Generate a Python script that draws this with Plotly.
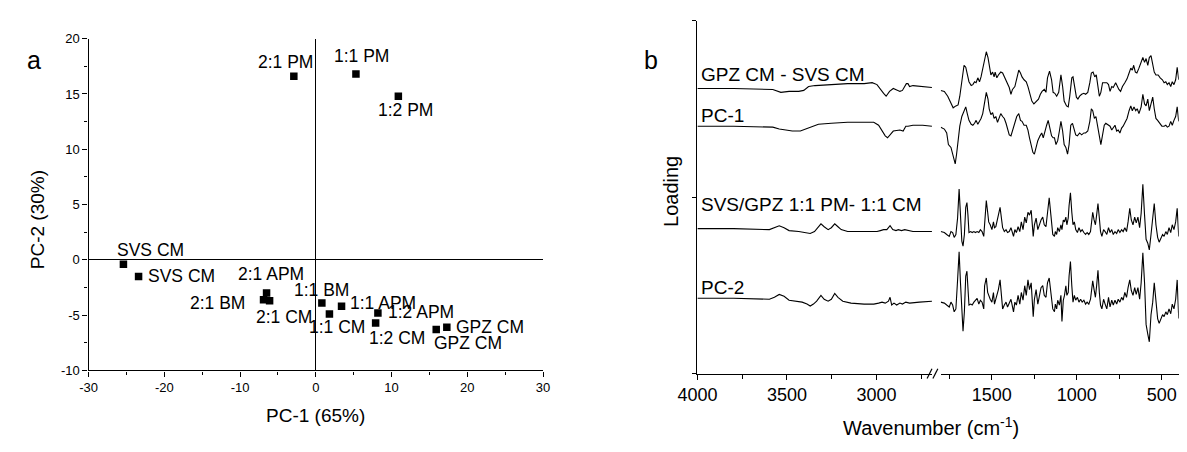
import plotly.graph_objects as go

# ---------------- Panel a: PCA scores ----------------
sample_names = ["2:1 PM", "1:1 PM", "1:2 PM", "SVS CM", "SVS CM", "2:1 APM", "2:1 BM",
                "2:1 CM", "1:1 BM", "1:1 CM", "1:1 APM", "1:2 APM", "1:2 CM", "GPZ CM", "GPZ CM"]
pc1_scores = [-2.9, 5.3, 10.9, -25.4, -23.4, -6.5, -6.9, -6.1, 0.8, 1.8, 3.4, 8.2, 7.9, 15.9, 17.3]
pc2_scores = [16.6, 16.8, 14.8, -0.4, -1.5, -3.0, -3.6, -3.7, -3.9, -4.9, -4.2, -4.8, -5.7, -6.3, -6.1]

pc1_ticks = [-30, -20, -10, 0, 10, 20, 30]
pc1_tick_labels = ["-30", "-20", "-10", "0", "10", "20", "30"]
pc2_ticks = [-10, -5, 0, 5, 10, 15, 20]
pc2_tick_labels = ["-10", "-5", "0", "5", "10", "15", "20"]

# label placement (xanchor, xshift px, yshift px) -- style only
label_place = [("center", -8, 14), ("center", 6, 18), ("center", 7, -14), ("center", 27, 14),
               ("left", 7, 0), ("center", 4, 19), ("right", -17, -3), ("center", 14, -16),
               ("center", 0, 13), ("center", 8, -13), ("left", 6, 3), ("left", 8, 1),
               ("center", 21, -15), ("center", 32, -13), ("left", 7, 0)]

# ---------------- Panel b: loadings (arbitrary units) ----------------
curve_names = ["GPZ CM - SVS CM", "PC-1", "SVS/GPZ 1:1 PM- 1:1 CM", "PC-2"]

# high-wavenumber region (4000-2690 cm-1)
c1_wn_hi = [4000, 3798, 3579, 3552, 3534, 3488, 3434, 3406, 3379, 3343, 3252, 3161, 3069, 3024, 2997,
            2978, 2960, 2946, 2927, 2906, 2887, 2869, 2855, 2842, 2833, 2824, 2815, 2796, 2742, 2690]
c1_hi = [295, 295, 294, 292, 291, 292, 292, 293, 297, 298, 299, 300, 300, 301, 299,
         294, 290, 287, 292, 295, 293, 292, 293, 297, 300, 300, 297, 298, 297, 296]
c2_wn_hi = [4000, 3798, 3579, 3543, 3506, 3470, 3425, 3397, 3361, 3324, 3252, 3161, 3069, 3015,
            2988, 2969, 2951, 2938, 2924, 2906, 2869, 2851, 2836, 2824, 2796, 2742, 2690]
c2_hi = [256, 256, 255, 253, 252, 251, 251, 253, 256, 258, 259, 260, 260, 260,
         257, 252, 246, 244, 247, 251, 252, 251, 256, 256, 257, 257, 256]
c3_wn_hi = [4000, 3798, 3598, 3570, 3543, 3516, 3488, 3434, 3397, 3370, 3346, 3328, 3310, 3292, 3270,
            3252, 3233, 3215, 3197, 3161, 3069, 3015, 2997, 2978, 2960, 2942, 2924, 2909, 2891, 2878,
            2860, 2842, 2824, 2796, 2742, 2690]
c3_hi = [150, 150, 149, 151, 153, 151, 148, 147, 146, 145, 147, 151, 155, 152, 149,
         151, 155, 152, 149, 147, 147, 147, 147, 148, 149, 149, 153, 149, 148, 149,
         148, 149, 148, 147, 147, 147]
c4_wn_hi = [4000, 3798, 3598, 3570, 3543, 3516, 3488, 3452, 3415, 3388, 3370, 3352, 3334, 3310, 3292,
            3270, 3252, 3233, 3215, 3188, 3142, 3069, 3015, 2988, 2969, 2951, 2933, 2924, 2915, 2902,
            2887, 2869, 2855, 2836, 2815, 2760, 2690]
c4_hi = [78, 78, 77, 79, 82, 80, 76, 75, 74, 72, 70, 72, 75, 81, 77,
         75, 77, 83, 79, 75, 73, 72, 72, 73, 74, 73, 75, 79, 71, 73,
         71, 73, 72, 74, 73, 74, 75]

# fingerprint region (1800-400 cm-1)
c1_wn_lo = [1800, 1779, 1759, 1740, 1727, 1711, 1698, 1688, 1676, 1663,
            1653, 1644, 1634, 1621, 1611, 1601, 1592, 1582, 1572, 1563,
            1553, 1543, 1532, 1522, 1515, 1505, 1495, 1486, 1480, 1470,
            1461, 1447, 1436, 1422, 1409, 1397, 1387, 1378, 1364, 1353,
            1341, 1331, 1322, 1310, 1297, 1287, 1274, 1264, 1252, 1239,
            1225, 1214, 1204, 1191, 1181, 1172, 1160, 1148, 1139, 1129,
            1118, 1106, 1093, 1083, 1074, 1060, 1050, 1041, 1029, 1022,
            1012, 1002, 993, 983, 971, 958, 948, 935, 923, 914,
            904, 894, 885, 875, 867, 858, 848, 838, 823, 813,
            804, 794, 785, 771, 761, 752, 742, 731, 717, 704,
            692, 682, 673, 665, 655, 646, 634, 625, 611, 601,
            592, 582, 573, 563, 553, 544, 534, 521, 509, 496,
            486, 476, 467, 457, 447, 438, 428, 418, 409, 400]
c1_lo = [293, 292, 287, 279, 275, 277, 278, 287, 304, 319,
         317, 311, 302, 298, 299, 302, 301, 306, 302, 307,
         316, 326, 333, 327, 317, 309, 312, 307, 312, 306,
         309, 312, 311, 306, 302, 296, 289, 294, 297, 307,
         314, 311, 307, 304, 302, 297, 287, 282, 279, 282,
         284, 289, 292, 294, 291, 306, 313, 304, 291, 290,
         287, 291, 309, 297, 282, 277, 276, 287, 306, 307,
         297, 286, 284, 287, 289, 290, 289, 291, 301, 311,
         312, 307, 309, 294, 287, 291, 301, 301, 301, 299,
         292, 297, 296, 301, 297, 294, 292, 297, 301, 305,
         311, 316, 314, 319, 312, 311, 316, 321, 327, 322,
         326, 319, 327, 329, 321, 312, 309, 309, 306, 304,
         301, 302, 299, 301, 297, 302, 299, 304, 317, 304]

c2_wn_lo = [1800, 1779, 1765, 1755, 1740, 1730, 1721, 1715, 1707, 1698,
            1688, 1676, 1663, 1653, 1644, 1634, 1621, 1611, 1601, 1592,
            1582, 1572, 1563, 1553, 1543, 1532, 1522, 1515, 1505, 1495,
            1486, 1476, 1466, 1457, 1447, 1436, 1426, 1416, 1407, 1397,
            1387, 1378, 1364, 1353, 1341, 1331, 1322, 1310, 1297, 1287,
            1278, 1268, 1258, 1249, 1239, 1229, 1216, 1206, 1197, 1187,
            1177, 1168, 1158, 1148, 1139, 1131, 1122, 1112, 1102, 1093,
            1083, 1074, 1064, 1054, 1045, 1035, 1025, 1016, 1006, 996,
            983, 971, 958, 948, 935, 923, 914, 906, 896, 887,
            877, 867, 858, 848, 838, 829, 813, 804, 794, 785,
            775, 765, 756, 746, 736, 727, 717, 704, 692, 682,
            673, 663, 653, 644, 634, 621, 611, 601, 592, 582,
            573, 563, 553, 544, 534, 524, 511, 499, 486, 476,
            467, 457, 447, 438, 428, 418, 409, 400]
c2_lo = [255, 253, 249, 237, 234, 227, 221, 217, 227, 244,
         256, 266, 272, 276, 269, 262, 258, 257, 259, 262,
         258, 261, 264, 269, 282, 291, 284, 274, 268, 270,
         264, 266, 260, 264, 269, 266, 264, 259, 254, 247,
         246, 251, 261, 266, 269, 262, 261, 257, 257, 252,
         244, 237, 229, 227, 234, 241, 246, 249, 244, 252,
         257, 262, 252, 246, 244, 244, 237, 241, 251, 261,
         251, 237, 234, 227, 237, 257, 259, 254, 247, 246,
         249, 247, 249, 249, 251, 261, 274, 272, 264, 266,
         254, 246, 237, 247, 257, 259, 257, 256, 252, 254,
         257, 251, 252, 249, 254, 256, 259, 264, 272, 277,
         272, 276, 272, 274, 269, 276, 289, 279, 277, 284,
         272, 281, 286, 274, 264, 262, 259, 256, 256, 257,
         255, 256, 261, 257, 262, 266, 276, 261]

c34_wn_lo = [1800, 1779, 1765, 1750, 1740, 1730, 1721, 1711, 1701, 1692,
             1684, 1676, 1669, 1661, 1653, 1646, 1640, 1634, 1624, 1615,
             1605, 1596, 1586, 1576, 1567, 1557, 1547, 1542, 1532, 1524,
             1518, 1509, 1499, 1490, 1484, 1476, 1468, 1461, 1451, 1441,
             1436, 1426, 1416, 1407, 1397, 1387, 1380, 1372, 1364, 1355,
             1345, 1335, 1326, 1316, 1306, 1297, 1287, 1278, 1268, 1262,
             1256, 1249, 1239, 1229, 1220, 1210, 1200, 1191, 1181, 1172,
             1162, 1152, 1141, 1131, 1126, 1118, 1112, 1102, 1093, 1087,
             1079, 1072, 1064, 1058, 1050, 1045, 1037, 1029, 1022, 1014,
             1006, 996, 987, 977, 968, 958, 948, 939, 929, 919,
             914, 906, 898, 890, 883, 875, 867, 860, 852, 842,
             833, 823, 813, 804, 794, 785, 775, 765, 756, 746,
             736, 727, 717, 707, 698, 688, 679, 669, 659, 650,
             640, 630, 621, 611, 601, 592, 582, 573, 563, 553,
             544, 534, 524, 515, 505, 495, 486, 476, 467, 457,
             447, 438, 428, 418, 409, 400]
c3_lo = [147, 146, 144, 142, 147, 146, 141, 144, 161, 191,
         164, 137, 132, 144, 172, 177, 164, 146, 147, 146,
         147, 146, 147, 146, 149, 147, 142, 157, 179, 167,
         157, 154, 149, 157, 151, 152, 157, 164, 172, 161,
         151, 147, 149, 146, 147, 151, 146, 142, 149, 146,
         152, 147, 157, 149, 162, 156, 167, 164, 169, 154,
         142, 154, 161, 149, 154, 159, 162, 154, 152, 167,
         182, 164, 144, 142, 147, 144, 151, 147, 154, 149,
         159, 157, 162, 154, 161, 174, 187, 167, 154, 157,
         149, 146, 151, 147, 149, 146, 144, 146, 144, 147,
         157, 167, 159, 154, 164, 176, 161, 147, 142, 149,
         147, 144, 151, 146, 149, 144, 147, 145, 149, 146,
         149, 147, 151, 147, 157, 171, 159, 154, 162, 156,
         162, 151, 166, 196, 164, 139, 135, 128, 144, 161,
         176, 154, 141, 136, 141, 144, 142, 147, 144, 151,
         146, 154, 149, 157, 171, 142]
c4_lo = [74, 73, 71, 69, 74, 71, 64, 67, 97, 126,
         94, 57, 44, 64, 101, 106, 87, 71, 72, 71,
         74, 76, 78, 72, 76, 74, 67, 91, 99, 84,
         81, 77, 74, 84, 72, 77, 82, 87, 97, 81,
         67, 71, 74, 69, 74, 77, 71, 64, 74, 71,
         81, 72, 84, 76, 91, 81, 97, 87, 94, 74,
         59, 77, 87, 72, 81, 89, 91, 81, 79, 94,
         99, 84, 67, 64, 72, 67, 76, 71, 81, 54,
         76, 81, 91, 81, 84, 101, 116, 91, 74, 81,
         76, 79, 74, 77, 74, 76, 72, 74, 72, 77,
         86, 96, 87, 79, 91, 107, 84, 71, 67, 77,
         72, 67, 79, 69, 76, 71, 76, 72, 77, 74,
         79, 76, 84, 79, 89, 97, 86, 81, 89, 82,
         89, 77, 94, 125, 94, 51, 41, 33, 61, 74,
         94, 71, 57, 52, 57, 61, 59, 64, 61, 67,
         62, 72, 67, 77, 97, 57]

hi_region = [(c1_wn_hi, c1_hi), (c2_wn_hi, c2_hi), (c3_wn_hi, c3_hi), (c4_wn_hi, c4_hi)]
lo_region = [(c1_wn_lo, c1_lo), (c2_wn_lo, c2_lo), (c34_wn_lo, c3_lo), (c34_wn_lo, c4_lo)]

# ---------------- Figure ----------------
W, H = 1187, 452
PAGE = 8  # default page margin of the html body
FONT = "Liberation Sans, Arial, sans-serif"
BLACK = "#000000"


def px(x):
    return (x - PAGE) / W


def py(y):
    return (H - (y - PAGE)) / H


fig = go.Figure()

fig.add_trace(go.Scatter(
    x=pc1_scores, y=pc2_scores, mode="markers",
    marker=dict(symbol="square", size=7.5, color=BLACK),
    xaxis="x", yaxis="y", showlegend=False, hoverinfo="skip"))

for (wn, v) in hi_region:
    fig.add_trace(go.Scatter(x=wn, y=v, mode="lines", line=dict(color=BLACK, width=1.1),
                             xaxis="x2", yaxis="y2", showlegend=False))
for (wn, v) in lo_region:
    fig.add_trace(go.Scatter(x=wn, y=v, mode="lines", line=dict(color=BLACK, width=1.1),
                             xaxis="x3", yaxis="y2", showlegend=False))

annotations = []
for name, xv, yv, (anc, dx, dy) in zip(sample_names, pc1_scores, pc2_scores, label_place):
    annotations.append(dict(x=xv, y=yv, xref="x", yref="y", text=name, showarrow=False,
                            xanchor=anc, yanchor="middle", xshift=dx, yshift=dy,
                            font=dict(size=17.5, color=BLACK, family=FONT)))

label_y = [70, 111.7, 204.5, 290]
for name, yy in zip(curve_names, label_y):
    annotations.append(dict(x=px(695), y=py(yy), xref="paper", yref="paper", text=name,
                            showarrow=False, xanchor="left", yanchor="middle",
                            font=dict(size=19, color=BLACK, family=FONT)))

annotations += [
    dict(x=px(14), y=py(55), xref="paper", yref="paper", text="a", showarrow=False,
         xanchor="center", yanchor="middle", font=dict(size=25, color=BLACK, family=FONT)),
    dict(x=px(645), y=py(55), xref="paper", yref="paper", text="b", showarrow=False,
         xanchor="center", yanchor="middle", font=dict(size=25, color=BLACK, family=FONT)),
    dict(x=px(302.6), y=py(422), xref="paper", yref="paper", text="PC-1 (65%)", showarrow=False,
         xanchor="center", yanchor="middle", font=dict(size=19, color=BLACK, family=FONT)),
    dict(x=px(18), y=py(219.5), xref="paper", yref="paper", text="PC-2 (30%)", showarrow=False,
         textangle=-90, xanchor="center", yanchor="middle",
         font=dict(size=19, color=BLACK, family=FONT)),
    dict(x=px(666), y=py(191), xref="paper", yref="paper", text="Loading", showarrow=False,
         textangle=-90, xanchor="center", yanchor="middle",
         font=dict(size=20, color=BLACK, family=FONT)),
    dict(x=px(932), y=py(434), xref="paper", yref="paper", text="Wavenumber (cm<sup>-1</sup>)",
         showarrow=False, xanchor="center", yanchor="middle",
         font=dict(size=20, color=BLACK, family=FONT)),
]

shapes = [
    dict(type="line", xref="paper", yref="paper", x0=px(928), y0=py(384), x1=px(933), y1=py(374),
         line=dict(color=BLACK, width=1.2)),
    dict(type="line", xref="paper", yref="paper", x0=px(934), y0=py(384), x1=px(939), y1=py(374),
         line=dict(color=BLACK, width=1.2)),
]

axis_common = dict(showline=True, linecolor=BLACK, linewidth=1.3, ticks="outside",
                   tickcolor=BLACK, tickwidth=1.2, showgrid=False, mirror=False)

fig.update_layout(
    width=W, height=H, margin=dict(l=0, r=0, t=0, b=0),
    paper_bgcolor="white", plot_bgcolor="white",
    font=dict(family=FONT, color=BLACK),
    showlegend=False,
    xaxis=dict(domain=[px(70), px(535)], range=[-30, 30], anchor="y",
               tickmode="array", tickvals=pc1_ticks, ticktext=pc1_tick_labels, ticklen=5,
               minor=dict(dtick=5, ticklen=3, ticks="outside", tickcolor=BLACK, tickwidth=1),
               zeroline=True, zerolinecolor=BLACK, zerolinewidth=1.3,
               tickfont=dict(size=13, color=BLACK), **axis_common),
    yaxis=dict(domain=[py(375.7), py(32.5)], range=[-10, 20], anchor="x",
               tickmode="array", tickvals=pc2_ticks, ticktext=pc2_tick_labels, ticklen=5,
               minor=dict(dtick=2.5, ticklen=3, ticks="outside", tickcolor=BLACK, tickwidth=1),
               zeroline=True, zerolinecolor=BLACK, zerolinewidth=1.3,
               tickfont=dict(size=13, color=BLACK), **axis_common),
    xaxis2=dict(domain=[px(693), px(933)], range=[4000, 2690], anchor="y2",
                tickmode="linear", tick0=0, dtick=500, ticklen=5,
                minor=dict(dtick=250, ticklen=4, ticks="outside", tickcolor=BLACK, tickwidth=1.2),
                zeroline=False, tickfont=dict(size=18, color=BLACK), **axis_common),
    xaxis3=dict(domain=[px(942), px(1185.5)], range=[1800, 400], anchor="y2",
                tickmode="linear", tick0=0, dtick=500, ticklen=5,
                minor=dict(dtick=250, ticklen=4, ticks="outside", tickcolor=BLACK, tickwidth=1.2),
                zeroline=False, tickfont=dict(size=18, color=BLACK), **axis_common),
    yaxis2=dict(domain=[py(379), py(14)], range=[0, 365], anchor="x2",
                tickmode="array", tickvals=[0, 182.5, 365], showticklabels=False, ticklen=4,
                zeroline=False, **axis_common),
    annotations=annotations,
    shapes=shapes,
)

fig.write_html("out.html")
